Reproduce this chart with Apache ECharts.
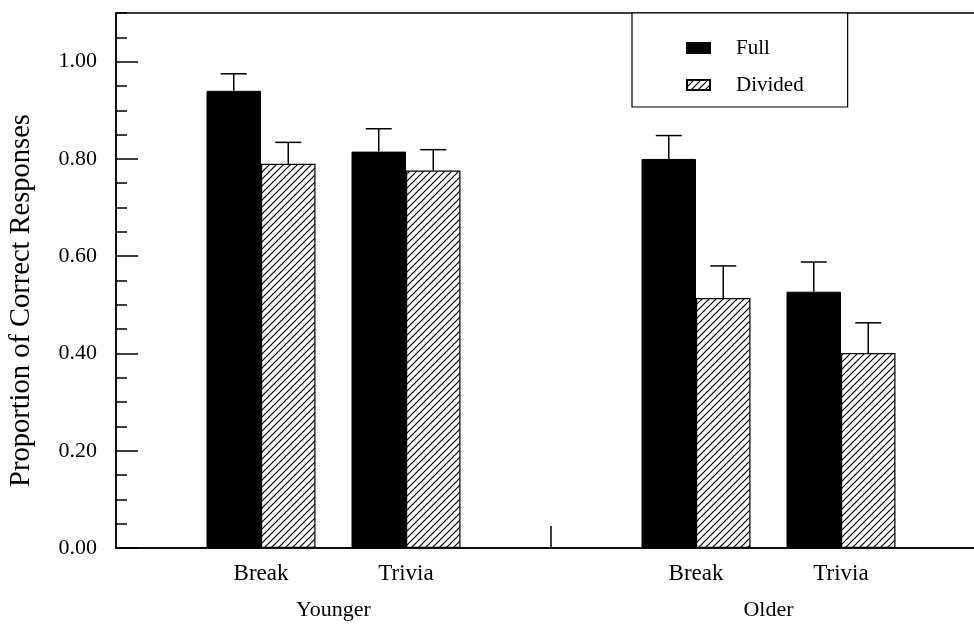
<!DOCTYPE html>
<html>
<head>
<meta charset="utf-8">
<script src="https://cdn.jsdelivr.net/npm/echarts@6/dist/echarts.min.js"></script>
<style>
  html, body { margin: 0; padding: 0; background: #fff; }
  #chart { width: 974px; height: 625px; }
</style>
</head>
<body>
<div id="chart"></div>
<script>
// x positions: empty slots keep the gap between the two age groups
const categories = ['', 'Break', 'Trivia', '', 'Break', 'Trivia', ''];
const groupLabels = ['', 'Younger', '', '', 'Older', ''];
const seriesNames = ['Full', 'Divided'];

// proportion correct and standard error (upper bar only)
const fullMean = [null, 0.940, 0.815, null, 0.800, 0.527, null];
const fullErr = [null, 0.035, 0.047, null, 0.048, 0.061, null];
const dividedMean = [null, 0.790, 0.776, null, 0.514, 0.401, null];
const dividedErr = [null, 0.044, 0.043, null, 0.066, 0.062, null];

const yMin = 0;
const yMax = 1.1;

const FONT = '"Liberation Serif", "DejaVu Serif", serif';
const BAR_W = 54.5;

// diagonal hatch fill for the "Divided" bars
function makeHatch() {
  const s = 7;
  const c = document.createElement('canvas');
  c.width = s;
  c.height = s;
  const ctx = c.getContext('2d');
  ctx.fillStyle = '#fff';
  ctx.fillRect(0, 0, s, s);
  ctx.strokeStyle = '#000';
  ctx.lineWidth = 1.2;
  ctx.beginPath();
  ctx.moveTo(0, s); ctx.lineTo(s, 0);
  ctx.moveTo(-1, 1); ctx.lineTo(1, -1);
  ctx.moveTo(s - 1, s + 1); ctx.lineTo(s + 1, s - 1);
  ctx.stroke();
  return c;
}

function errData(mean, err) {
  const out = [];
  mean.forEach((m, i) => {
    if (m != null) out.push([i, m, err[i]]);
  });
  return out;
}

function errRender(offset) {
  return function (params, api) {
    const idx = api.value(0);
    const m = api.value(1);
    const e = api.value(2);
    const p0 = api.coord([idx, m]);
    const p1 = api.coord([idx, m + e]);
    const x = p0[0] + offset;
    const style = { stroke: '#000', lineWidth: 1.5 };
    return {
      type: 'group',
      children: [
        { type: 'line', shape: { x1: x, y1: p0[1], x2: x, y2: p1[1] }, style: style },
        { type: 'line', shape: { x1: x - 13, y1: p1[1], x2: x + 13, y2: p1[1] }, style: style }
      ]
    };
  };
}

const chart = echarts.init(document.getElementById('chart'));
const hatch = { image: makeHatch(), repeat: 'repeat' };

const option = {
  backgroundColor: '#fff',
  animation: false,
  textStyle: { fontFamily: FONT, color: '#000' },
  grid: {
    left: 116,
    top: 13,
    width: 870,
    height: 535,
    outerBoundsMode: 'none',
    containLabel: false,
    show: true,
    borderColor: '#000',
    borderWidth: 1.5,
    backgroundColor: 'transparent'
  },
  legend: {
    data: seriesNames,
    orient: 'vertical',
    left: 632,
    top: 13,
    icon: 'rect',
    itemWidth: 23,
    itemHeight: 10,
    itemGap: 15,
    padding: [24, 44, 11, 54],
    backgroundColor: '#fff',
    borderColor: '#000',
    borderWidth: 1.2,
    textStyle: {
      fontFamily: FONT,
      fontSize: 21,
      color: '#000',
      lineHeight: 22,
      padding: [0, 0, 0, 21]
    }
  },
  xAxis: [
    {
      type: 'category',
      data: categories,
      boundaryGap: false,
      axisLine: { lineStyle: { color: '#000', width: 1.5 } },
      axisTick: {
        inside: true,
        length: 22,
        interval: (index) => index === 3,
        lineStyle: { color: '#000', width: 1.5 }
      },
      axisLabel: {
        interval: 0,
        margin: 14,
        fontFamily: FONT,
        fontSize: 23,
        color: '#000'
      },
      splitLine: { show: false }
    },
    {
      type: 'category',
      data: groupLabels,
      position: 'bottom',
      boundaryGap: true,
      axisLine: { show: false },
      axisTick: { show: false },
      axisLabel: {
        interval: 0,
        margin: 51,
        fontFamily: FONT,
        fontSize: 22,
        color: '#000'
      },
      splitLine: { show: false }
    }
  ],
  yAxis: [
    {
      type: 'value',
      min: yMin,
      max: yMax,
      interval: 0.05,
      axisLine: { show: true, lineStyle: { color: '#000', width: 1.5 } },
      axisTick: { show: true, inside: true, length: 11, lineStyle: { color: '#000', width: 1.5 } },
      axisLabel: { show: false },
      splitLine: { show: false }
    },
    {
      type: 'value',
      position: 'left',
      min: yMin,
      max: yMax,
      interval: 0.2,
      name: 'Proportion of Correct Responses',
      nameLocation: 'middle',
      nameGap: 80,
      nameTextStyle: { fontFamily: FONT, fontSize: 28.5, color: '#000', padding: [0, 40, 0, 0] },
      axisLine: { show: false },
      axisTick: { show: true, inside: true, length: 22, lineStyle: { color: '#000', width: 1.5 } },
      axisLabel: {
        margin: 19,
        showMaxLabel: false,
        fontFamily: FONT,
        fontSize: 22,
        color: '#000',
        formatter: (v) => v.toFixed(2)
      },
      splitLine: { show: false }
    }
  ],
  series: [
    {
      name: 'Full',
      type: 'bar',
      data: fullMean,
      barWidth: BAR_W,
      barGap: '0%',
      itemStyle: { color: '#000', borderColor: '#000', borderWidth: 1 },
      z: 2
    },
    {
      name: 'Divided',
      type: 'bar',
      data: dividedMean,
      barWidth: BAR_W,
      barGap: '0%',
      itemStyle: { color: hatch, borderColor: '#000', borderWidth: 1.2 },
      z: 2
    },
    {
      type: 'custom',
      data: errData(fullMean, fullErr),
      renderItem: errRender(-BAR_W / 2),
      z: 3,
      silent: true
    },
    {
      type: 'custom',
      data: errData(dividedMean, dividedErr),
      renderItem: errRender(BAR_W / 2),
      z: 3,
      silent: true
    }
  ]
};

chart.setOption(option);
</script>
</body>
</html>
